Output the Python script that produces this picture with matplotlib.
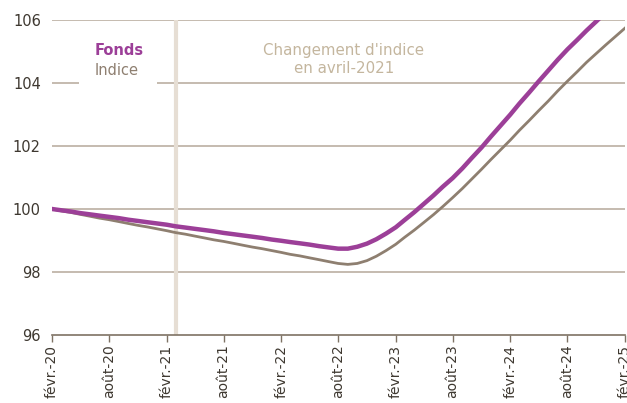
import matplotlib
matplotlib.use('Agg')
import matplotlib.pyplot as plt
import pandas as pd

# valeurs mensuelles, base 100 en fevrier 2020
mois = pd.date_range('2020-02-01', '2025-02-01', freq='MS')

fonds = [100.00, 99.96, 99.92, 99.87, 99.83, 99.79, 99.75, 99.71, 99.66, 99.62,
         99.58, 99.54, 99.50, 99.45, 99.41, 99.37, 99.33, 99.29, 99.24, 99.20,
         99.16, 99.12, 99.08, 99.03, 98.99, 98.95, 98.91, 98.87, 98.82, 98.78,
         98.74, 98.74, 98.80, 98.90, 99.04, 99.22, 99.42, 99.65, 99.90, 100.16,
         100.43, 100.71, 100.98, 101.29, 101.62, 101.95, 102.30, 102.65, 103.00, 103.35,
         103.70, 104.05, 104.40, 104.74, 105.07, 105.37, 105.67, 105.96, 106.25, 106.55,
         106.85]

indice = [100.00, 99.94, 99.89, 99.83, 99.77, 99.71, 99.66, 99.60, 99.54, 99.48,
          99.43, 99.37, 99.31, 99.25, 99.20, 99.14, 99.08, 99.02, 98.97, 98.91,
          98.85, 98.79, 98.74, 98.68, 98.62, 98.56, 98.51, 98.45, 98.39, 98.33,
          98.27, 98.24, 98.27, 98.36, 98.50, 98.68, 98.88, 99.10, 99.33, 99.57,
          99.82, 100.08, 100.36, 100.65, 100.95, 101.26, 101.57, 101.88, 102.19, 102.50,
          102.81, 103.12, 103.43, 103.75, 104.06, 104.36, 104.66, 104.94, 105.21, 105.48,
          105.75]

yticks = [96, 98, 100, 102, 104, 106]
xticks = pd.date_range('2020-02-01', '2025-02-01', freq='6MS')
xlabels = ['févr.-20', 'août-20', 'févr.-21', 'août-21', 'févr.-22', 'août-22',
           'févr.-23', 'août-23', 'févr.-24', 'août-24', 'févr.-25']
date_changement = pd.Timestamp('2021-03-01')

violet = '#9C3F98'
gris = '#8E7F70'
grille = '#C0B5A9'
beige = '#C4B69E'
texte = '#3E3830'

plt.rcParams['font.family'] = ['DejaVu Sans']

fig = plt.figure(figsize=(6.27, 4.03), dpi=100)
ax = fig.add_axes([0.083, 0.169, 0.914, 0.781])

for y in yticks[1:]:
    ax.axhline(y, color=grille, lw=1.3, zorder=1)
ax.axvline(date_changement, color='#E6DED4', lw=3, zorder=2)

ax.plot(mois, indice, color=gris, lw=2.0, zorder=3)
ax.plot(mois, fonds, color=violet, lw=3.2, zorder=4)

ax.set_xlim(mois[0], mois[-1])
ax.set_ylim(96, 106)
ax.set_yticks(yticks)
ax.set_xticks(xticks)
ax.set_xticklabels(xlabels, rotation=90)
ax.tick_params(axis='y', length=0, labelsize=10.5, colors=texte, pad=8)
ax.tick_params(axis='x', length=5, width=1, color='#7E7264', labelsize=10,
               labelcolor=texte, pad=2)

for s in ['top', 'right', 'left']:
    ax.spines[s].set_visible(False)
ax.spines['bottom'].set_color('#7E7264')
ax.spines['bottom'].set_linewidth(1.2)

# legende : simple texte sur fond blanc
ax.add_patch(plt.Rectangle((0.047, 0.75), 0.137, 0.17, transform=ax.transAxes,
                           facecolor='white', edgecolor='none', zorder=5))
ax.text(0.075, 0.905, 'Fonds', transform=ax.transAxes, color=violet,
        fontsize=10.5, fontweight='bold', va='center', zorder=6)
ax.text(0.075, 0.84, 'Indice', transform=ax.transAxes, color=gris,
        fontsize=10.5, va='center', zorder=6)

ax.text(0.509, 0.875, "Changement d'indice\nen avril-2021", transform=ax.transAxes,
        color=beige, fontsize=10.8, ha='center', va='center', linespacing=1.2, zorder=6)

fig.savefig('out.png', dpi=100)
